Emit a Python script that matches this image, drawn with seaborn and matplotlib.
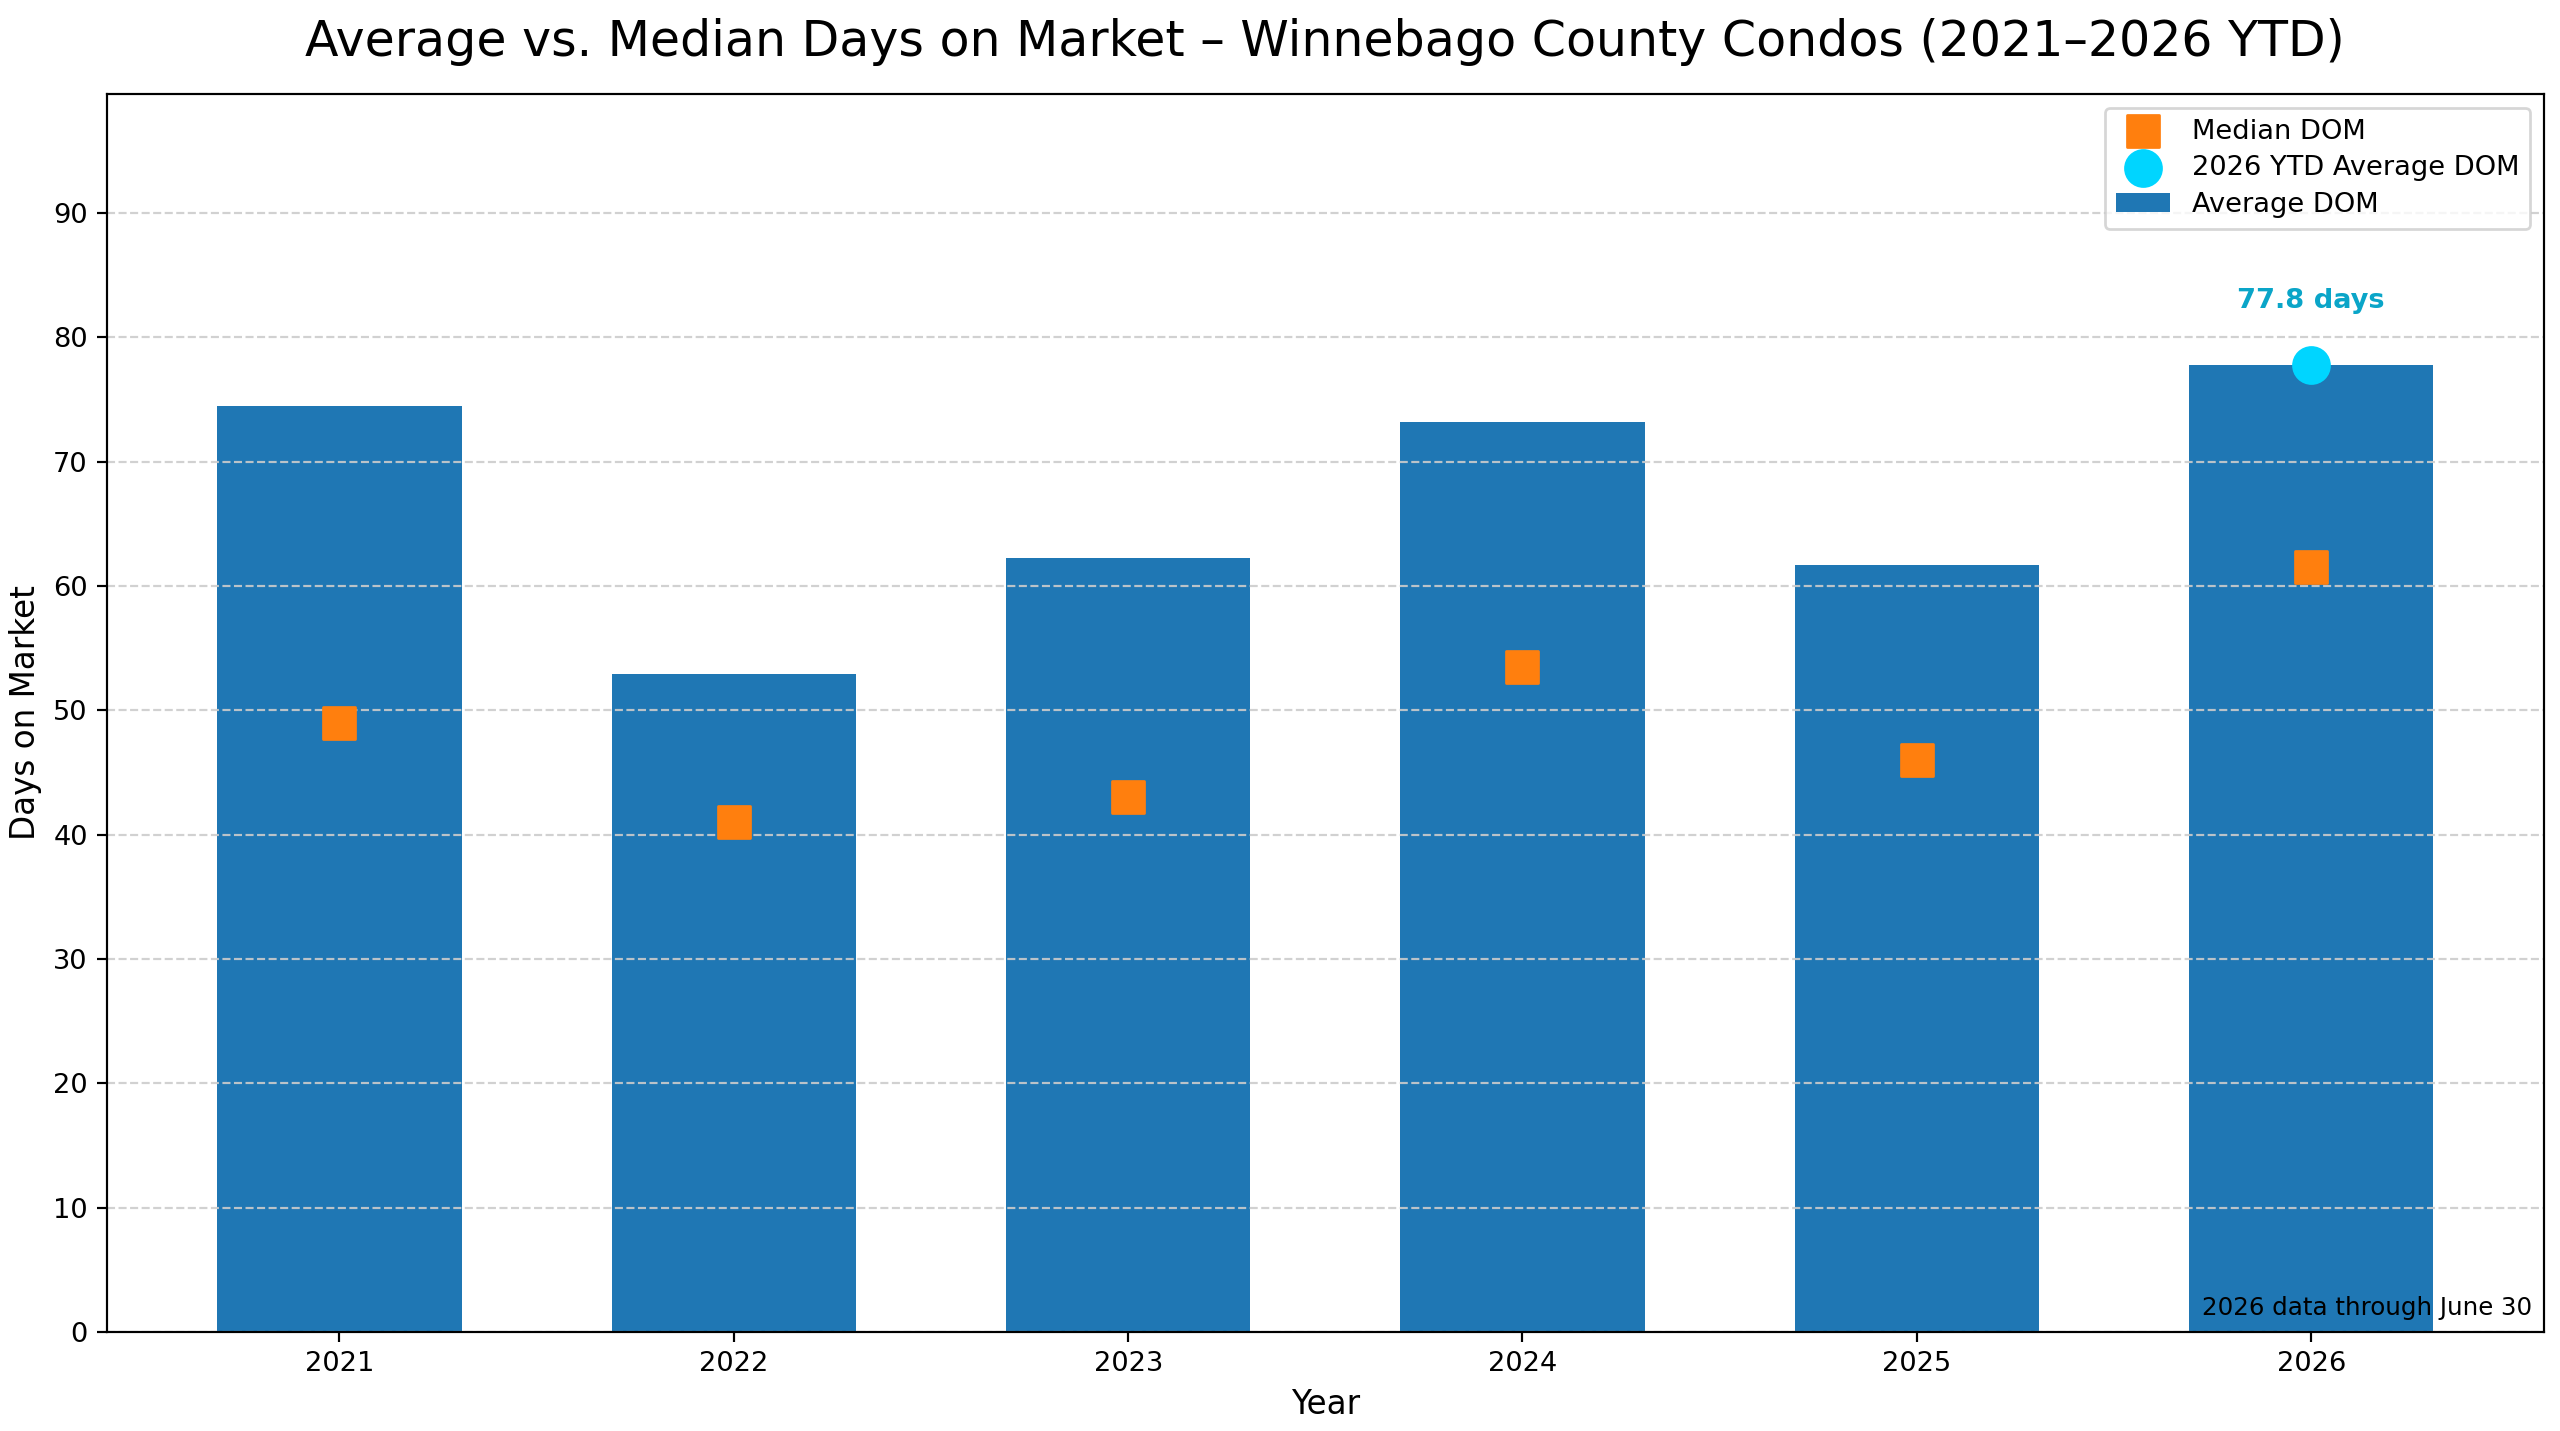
import numpy as np
import pandas as pd
import seaborn as sns
from matplotlib import pyplot as plt

# ==== data ====
years = ['2021', '2022', '2023', '2024', '2025', '2026']
avg_dom = [74.5, 52.9, 62.3, 73.2, 61.7, 77.8]
median_dom = [49.0, 41.0, 43.0, 53.5, 46.0, 61.5]
ytd_year = '2026'
ytd_avg = 77.8

bar_color = '#1f77b4'
median_color = '#ff7f0e'
ytd_color = '#00d5ff'
ytd_text_color = '#0aa5c8'

df = pd.DataFrame({'Year': years, 'AvgDOM': avg_dom, 'MedianDOM': median_dom})
xpos = np.arange(len(years))

dpi = 196
fig, ax = plt.subplots(figsize=(2560 / dpi, 1431 / dpi), dpi=dpi)

sns.barplot(data=df, x='Year', y='AvgDOM', color=bar_color, width=0.62,
            saturation=1, label='Average DOM', ax=ax)

ax.scatter(xpos, df['MedianDOM'], marker='s', s=135, color=median_color,
           zorder=3, label='Median DOM')

ytd_i = years.index(ytd_year)
ax.scatter([xpos[ytd_i]], [ytd_avg], marker='o', s=175, color=ytd_color,
           zorder=4, label='2026 YTD Average DOM')
ax.annotate(f'{ytd_avg:.1f} days', (xpos[ytd_i], ytd_avg), xytext=(0, 23.5),
            textcoords='offset points', ha='center', va='center',
            fontsize=10, fontweight='bold', color=ytd_text_color)

ax.set_xlim(-0.59, len(years) - 1 + 0.59)
ax.set_ylim(0, max(avg_dom) * 1.28)
ax.set_yticks(np.arange(0, 100, 10))
ax.grid(axis='y', linestyle='--', color='#cccccc', alpha=0.9)
ax.tick_params(labelsize=10)

ax.set_title('Average vs. Median Days on Market \u2013 Winnebago County Condos (2021\u20132026 YTD)',
             fontsize=18, pad=14)
ax.set_xlabel('Year', fontsize=12)
ax.set_ylabel('Days on Market', fontsize=12)

ax.text(0.995, 0.01, '2026 data through June 30', transform=ax.transAxes,
        ha='right', va='bottom', fontsize=9)

handles, labels = ax.get_legend_handles_labels()
lookup = dict(zip(labels, handles))
order = ['Median DOM', '2026 YTD Average DOM', 'Average DOM']
ax.legend([lookup[k] for k in order], order, loc='upper right', fontsize=10,
          labelspacing=0.4)

fig.subplots_adjust(left=0.0417, right=0.9937, top=0.9343, bottom=0.0692)
plt.savefig('out.png', dpi=dpi)
plt.close()
